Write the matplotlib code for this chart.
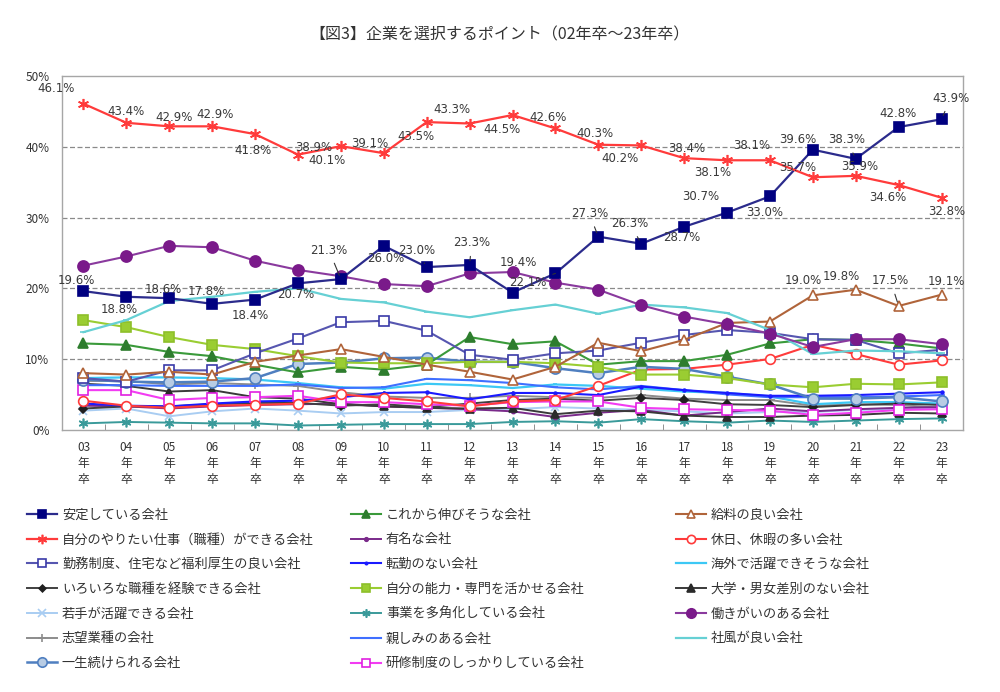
import matplotlib
matplotlib.use("Agg")
import matplotlib.pyplot as plt
from matplotlib.ticker import FuncFormatter

plt.rcParams['font.family'] = ['Noto Sans CJK JP', 'DejaVu Sans']

# ---------------- data ----------------
years = ['03', '04', '05', '06', '07', '08', '09', '10', '11', '12', '13',
         '14', '15', '16', '17', '18', '19', '20', '21', '22', '23']

s_antei = [19.6, 18.8, 18.6, 17.8, 18.4, 20.7, 21.3, 26.0, 23.0, 23.3, 19.4,
           22.1, 27.3, 26.3, 28.7, 30.7, 33.0, 39.6, 38.3, 42.8, 43.9]
s_yaritai = [46.1, 43.4, 42.9, 42.9, 41.8, 38.9, 40.1, 39.1, 43.5, 43.3, 44.5,
             42.6, 40.3, 40.2, 38.4, 38.1, 38.1, 35.7, 35.9, 34.6, 32.8]
s_kinmu = [7.3, 6.8, 8.4, 8.4, 10.8, 12.9, 15.2, 15.4, 14.0, 10.6, 9.9,
           10.8, 11.2, 12.3, 13.4, 14.1, 13.7, 12.8, 12.7, 10.8, 11.3]
s_iroiro = [3.0, 3.3, 3.3, 3.6, 3.8, 3.8, 3.4, 3.6, 3.2, 3.7, 4.2,
            4.4, 4.1, 4.5, 4.2, 3.6, 3.5, 3.2, 3.5, 3.7, 3.5]
s_wakate = [2.7, 3.0, 1.9, 2.6, 3.0, 2.7, 2.3, 2.5, 2.5, 2.8, 2.9,
            3.2, 3.0, 2.8, 2.6, 2.3, 2.5, 2.5, 2.8, 2.9, 3.0]
s_shibou = [6.9, 6.9, 6.4, 6.6, 6.4, 6.2, 5.3, 4.7, 4.5, 4.5, 4.8,
            4.6, 4.5, 4.9, 4.4, 4.2, 4.2, 3.4, 3.6, 3.5, 3.1]
s_issho = [7.1, 6.8, 6.7, 6.8, 7.3, 9.3, 9.5, 10.1, 10.2, 9.6, 9.6,
           8.7, 8.0, 8.9, 8.6, 7.5, 6.4, 4.4, 4.4, 4.6, 4.0]
s_korekara = [12.2, 12.0, 11.0, 10.4, 9.2, 8.1, 8.9, 8.5, 9.2, 13.1, 12.1,
              12.5, 9.2, 9.7, 9.7, 10.6, 12.2, 12.8, 12.7, 12.2, 11.5]
s_yumei = [3.4, 3.3, 3.0, 3.3, 3.5, 3.6, 3.7, 3.3, 3.1, 2.9, 2.6,
           1.8, 2.4, 2.8, 2.0, 2.5, 3.0, 2.6, 2.9, 3.1, 3.2]
s_tenkin = [3.7, 3.4, 3.3, 3.7, 4.0, 4.1, 4.6, 5.2, 5.3, 4.3, 5.2,
            5.2, 4.9, 6.1, 5.6, 5.2, 4.8, 4.8, 4.9, 5.1, 5.3]
s_nouryoku = [15.5, 14.5, 13.1, 12.0, 11.4, 10.4, 9.5, 9.4, 9.4, 9.6, 9.6,
              9.4, 8.9, 7.8, 7.8, 7.3, 6.4, 6.0, 6.5, 6.4, 6.7]
s_takaku = [0.9, 1.1, 1.0, 0.9, 0.9, 0.6, 0.7, 0.8, 0.8, 0.8, 1.1,
            1.2, 1.0, 1.5, 1.2, 1.0, 1.3, 1.1, 1.3, 1.5, 1.6]
s_shitashimi = [6.3, 6.3, 6.2, 6.2, 6.2, 6.4, 5.9, 6.0, 7.2, 7.0, 6.6,
                6.0, 5.7, 6.2, 5.6, 5.0, 4.6, 4.6, 4.6, 4.7, 4.9]
s_kenshu = [5.6, 5.6, 4.2, 4.5, 4.6, 4.8, 3.9, 3.9, 3.6, 3.4, 3.9,
            4.0, 4.0, 3.1, 2.9, 2.8, 2.7, 2.1, 2.4, 2.8, 2.9]
s_kyuryo = [8.0, 7.8, 8.2, 7.8, 9.6, 10.5, 11.4, 10.3, 9.2, 8.2, 7.1,
            8.9, 12.3, 11.1, 12.7, 15.1, 15.3, 19.0, 19.8, 17.5, 19.1]
s_kyujitsu = [4.1, 3.4, 3.1, 3.4, 3.5, 3.7, 5.0, 4.5, 4.0, 3.3, 4.0,
              4.2, 6.2, 8.5, 8.6, 9.2, 10.0, 12.0, 10.7, 9.2, 9.8]
s_kaigai = [7.3, 7.4, 7.4, 7.3, 7.1, 6.6, 6.0, 5.8, 6.5, 6.3, 5.9,
            6.4, 6.2, 5.8, 5.4, 5.2, 4.7, 3.6, 3.9, 3.9, 3.7]
s_daigaku = [6.5, 6.2, 5.4, 5.6, 4.6, 4.4, 3.6, 3.3, 3.1, 3.0, 3.1,
             2.2, 2.7, 2.6, 2.0, 1.8, 1.8, 2.0, 2.1, 2.4, 2.3]
s_hatarakigai = [23.2, 24.5, 26.0, 25.8, 23.9, 22.6, 21.7, 20.6, 20.3, 22.1, 22.3,
                 20.8, 19.8, 17.6, 16.0, 14.9, 13.6, 11.7, 12.8, 12.8, 12.1]
s_shafu = [13.8, 15.5, 18.2, 18.8, 19.5, 20.0, 18.5, 18.0, 16.7, 15.9, 16.9,
           17.7, 16.4, 17.7, 17.3, 16.5, 14.1, 10.7, 11.2, 11.1, 10.8]

names = {
    'antei': '安定している会社',
    'yaritai': '自分のやりたい仕事（職種）ができる会社',
    'kinmu': '勤務制度、住宅など福利厚生の良い会社',
    'iroiro': 'いろいろな職種を経験できる会社',
    'wakate': '若手が活躍できる会社',
    'shibou': '志望業種の会社',
    'issho': '一生続けられる会社',
    'korekara': 'これから伸びそうな会社',
    'yumei': '有名な会社',
    'tenkin': '転勤のない会社',
    'nouryoku': '自分の能力・専門を活かせる会社',
    'takaku': '事業を多角化している会社',
    'shitashimi': '親しみのある会社',
    'kenshu': '研修制度のしっかりしている会社',
    'kyuryo': '給料の良い会社',
    'kyujitsu': '休日、休暇の多い会社',
    'kaigai': '海外で活躍できそうな会社',
    'daigaku': '大学・男女差別のない会社',
    'hatarakigai': '働きがいのある会社',
    'shafu': '社風が良い会社',
}

values = {
    'antei': s_antei, 'yaritai': s_yaritai, 'kinmu': s_kinmu, 'iroiro': s_iroiro,
    'wakate': s_wakate, 'shibou': s_shibou, 'issho': s_issho, 'korekara': s_korekara,
    'yumei': s_yumei, 'tenkin': s_tenkin, 'nouryoku': s_nouryoku, 'takaku': s_takaku,
    'shitashimi': s_shitashimi, 'kenshu': s_kenshu, 'kyuryo': s_kyuryo,
    'kyujitsu': s_kyujitsu, 'kaigai': s_kaigai, 'daigaku': s_daigaku,
    'hatarakigai': s_hatarakigai, 'shafu': s_shafu,
}

# ---------------- styles ----------------
AST = (6, 2, 0)
styles = {
    'antei': dict(color='#2B2B8C', marker='s', ms=7, mfc='#000080', mec='#000080', lw=1.6, z=9),
    'yaritai': dict(color='#FF3B3B', marker=AST, ms=8, mfc='#FF3B3B', mec='#FF3B3B', lw=1.6, z=9),
    'kinmu': dict(color='#5656B0', marker='s', ms=7, mfc='white', mec='#3A3AA8', lw=1.5, z=5),
    'iroiro': dict(color='#404040', marker='D', ms=4, mfc='#202020', mec='#202020', lw=1.4, z=4),
    'wakate': dict(color='#A9CDF2', marker='x', ms=6, mfc='#A9CDF2', mec='#A9CDF2', lw=1.4, z=3),
    'shibou': dict(color='#8C8C8C', marker='+', ms=7, mfc='#8C8C8C', mec='#8C8C8C', lw=1.4, z=3),
    'issho': dict(color='#4F7FC0', marker='o', ms=8, mfc='#B8CCE4', mec='#4F7FC0', lw=1.8, z=5),
    'korekara': dict(color='#3A9A3A', marker='^', ms=7, mfc='#2E7D2E', mec='#2E7D2E', lw=1.5, z=5),
    'yumei': dict(color='#7A2A8A', marker='o', ms=3, mfc='#7A2A8A', mec='#7A2A8A', lw=1.4, z=3),
    'tenkin': dict(color='#1A1AFF', marker='.', ms=4, mfc='#1A1AFF', mec='#1A1AFF', lw=1.5, z=4),
    'nouryoku': dict(color='#9ACD32', marker='s', ms=7, mfc='#9ACD32', mec='#8DBF2A', lw=1.5, z=5),
    'takaku': dict(color='#3A9A9A', marker=AST, ms=7, mfc='#3A9A9A', mec='#3A9A9A', lw=1.4, z=3),
    'shitashimi': dict(color='#3F6FFF', marker='_', ms=5, mfc='#3F6FFF', mec='#3F6FFF', lw=1.5, z=3),
    'kenshu': dict(color='#F23CF2', marker='s', ms=7, mfc='white', mec='#E020E0', lw=1.5, z=4),
    'kyuryo': dict(color='#B0643A', marker='^', ms=7, mfc='white', mec='#B0643A', lw=1.5, z=6),
    'kyujitsu': dict(color='#FF3B3B', marker='o', ms=7, mfc='white', mec='#FF3B3B', lw=1.5, z=4),
    'kaigai': dict(color='#3CC8F5', marker='_', ms=3, mfc='#3CC8F5', mec='#3CC8F5', lw=1.6, z=3),
    'daigaku': dict(color='#3A3A3A', marker='^', ms=6, mfc='#2A2A2A', mec='#2A2A2A', lw=1.4, z=3),
    'hatarakigai': dict(color='#8A3A9E', marker='o', ms=8, mfc='#7A1A8A', mec='#7A1A8A', lw=1.5, z=7),
    'shafu': dict(color='#66D0D4', marker='_', ms=4, mfc='#66D0D4', mec='#66D0D4', lw=1.6, z=6),
}

legend_cols = [
    ['antei', 'yaritai', 'kinmu', 'iroiro', 'wakate', 'shibou', 'issho'],
    ['korekara', 'yumei', 'tenkin', 'nouryoku', 'takaku', 'shitashimi', 'kenshu'],
    ['kyuryo', 'kyujitsu', 'kaigai', 'daigaku', 'hatarakigai', 'shafu'],
]

# label offsets in pixels (dx, dy) and leader flag  -- layout only
off_yaritai = [(-27, 15), (0, 11), (5, 9), (3, 12), (-2, -16), (16, 7), (-14, -14),
               (-14, 10), (-11, -14), (-18, 14), (-11, -14), (-7, 11), (-3, 11),
               (-21, -13), (3, 10), (-14, -12), (-18, 15), (-15, 10), (4, 9),
               (-11, -12), (5, -14)]
off_antei = [(-7, 11), (-7, -13), (-6, 9), (-6, 12), (-5, -16), (-2, -11), (-12, 29),
             (2, -13), (-10, 17), (2, 22), (6, 30), (-28, -9), (-9, 23), (-11, 20),
             (-2, -11), (-26, 16), (-5, -16), (-15, 10), (-9, 19), (-1, 14), (9, 21)]
lead_antei = [False, False, False, False, False, False, True, False, True, True, False,
              True, True, True, False, False, False, False, True, False, True]
kyuryo_label_idx = [17, 18, 19, 20]
off_kyuryo = [(-10, 15), (-14, 13), (-8, 25), (5, 13)]
lead_kyuryo = [False, False, True, False]

# ---------------- figure ----------------
fig = plt.figure(figsize=(10, 6.92), dpi=100)
ax = fig.add_axes([0.062, 0.379, 0.901, 0.511])
x = list(range(len(years)))

handles = {}
draw_order = ['takaku', 'wakate', 'shibou', 'yumei', 'daigaku', 'iroiro', 'kaigai',
              'shitashimi', 'tenkin', 'kenshu', 'kyujitsu', 'issho', 'korekara',
              'nouryoku', 'kinmu', 'kyuryo', 'shafu', 'hatarakigai', 'antei', 'yaritai']
for key in draw_order:
    st = styles[key]
    h, = ax.plot(x, values[key], color=st['color'], lw=st['lw'], marker=st['marker'],
                 ms=st['ms'], mfc=st['mfc'], mec=st['mec'], mew=1.2,
                 label=names[key], zorder=st['z'])
    handles[key] = h

ax.set_xlim(-0.5, len(years) - 0.5)
ax.set_ylim(0, 50)
ax.set_yticks([0, 10, 20, 30, 40, 50])
ax.yaxis.set_major_formatter(FuncFormatter(lambda v, p: f'{v:.0f}%'))
ax.set_xticks(x)
ax.set_xticklabels([f'{y}\n年\n卒' for y in years], fontsize=8.5, color='#333333',
                   linespacing=1.3)
ax.tick_params(axis='x', length=0, pad=8)
ax.tick_params(axis='y', length=0, labelsize=8.5, labelcolor='#333333', pad=9)
ax.set_xticks([i + 0.5 for i in range(len(years) - 1)], minor=True)
ax.tick_params(axis='x', which='minor', direction='in', length=4, color='#808080')

for g in [10, 20, 30, 40]:
    ax.axhline(g, color='#8A8A8A', lw=0.9, ls=(0, (4, 2)), zorder=1)
for s in ax.spines.values():
    s.set_color('#A6A6A6')
    s.set_linewidth(1.0)

lab_kw = dict(fontsize=8.5, color='#3A3A3A', ha='center', va='center',
              textcoords='offset pixels', zorder=20, family=['DejaVu Sans'])
arrow_kw = dict(arrowstyle='-', color='#333333', lw=0.8, shrinkA=3, shrinkB=3)

for i, v in enumerate(s_yaritai):
    ax.annotate(f'{v:.1f}%', (i, v), xytext=off_yaritai[i], **lab_kw)
for i, v in enumerate(s_antei):
    ax.annotate(f'{v:.1f}%', (i, v), xytext=off_antei[i],
                arrowprops=arrow_kw if lead_antei[i] else None, **lab_kw)
for j, i in enumerate(kyuryo_label_idx):
    v = s_kyuryo[i]
    ax.annotate(f'{v:.1f}%', (i, v), xytext=off_kyuryo[j],
                arrowprops=arrow_kw if lead_kyuryo[j] else None, **lab_kw)

fig.text(0.5, 0.950, '【図3】企業を選択するポイント（02年卒～23年卒）',
         ha='center', va='center', fontsize=11.5, color='#333333')

col_x = [0.027, 0.351, 0.676]
for cx, keys in zip(col_x, legend_cols):
    fig.legend([handles[k] for k in keys], [names[k] for k in keys],
               loc='upper left', bbox_to_anchor=(cx, 0.265), frameon=False,
               fontsize=9.5, handlelength=2.3, handletextpad=0.35,
               labelspacing=0.89, borderpad=0, borderaxespad=0,
               markerscale=0.85, labelcolor='#333333')

fig.savefig('out.png', dpi=100, facecolor='white')
